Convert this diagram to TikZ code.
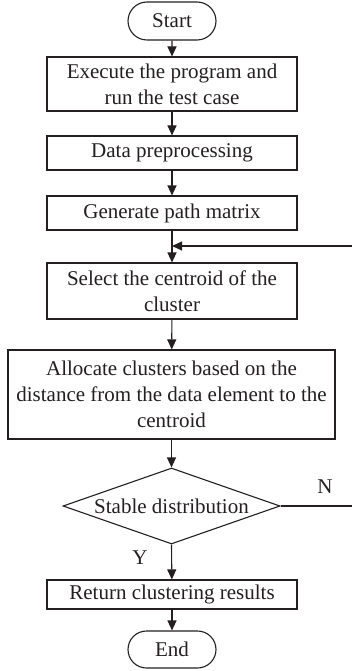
\documentclass[tikz,border=0pt]{standalone}
\usepackage{fontspec}
\setmainfont{Liberation Serif}
\usetikzlibrary{shapes.geometric,shapes.misc,arrows.meta}
\definecolor{ink}{HTML}{231F20}
\begin{document}
\begin{tikzpicture}[x=1pt,y=-1pt,
  every node/.style={font=\fontsize{21}{26}\selectfont, text=ink},
  box/.style={draw=ink, line width=1.1pt, rectangle, align=center, inner sep=0pt},
  term/.style={draw=ink, line width=1.1pt, rounded rectangle, inner sep=0pt,
               minimum width=88pt, minimum height=38pt},
  decision/.style={draw=ink, line width=1.1pt, diamond, aspect=2.86, inner sep=0pt,
               minimum width=217pt, minimum height=76pt},
  flow/.style={draw=ink, line width=1.1pt, -{Triangle[length=10pt,width=9pt]}},
  plain/.style={draw=ink, line width=1.1pt}]
\useasboundingbox (0,0) rectangle (352,671);

\node[term] (start) at (172,21) {Start};
\node[box, minimum width=250pt, minimum height=54pt] (exec) at (172,84)
  {Execute the program and\\run the test case};
\node[box, minimum width=250pt, minimum height=34pt] (prep) at (172,153)
  {Data preprocessing};
\node[box, minimum width=250pt, minimum height=34pt] (path) at (172,213)
  {Generate path matrix};
\node[box, minimum width=250pt, minimum height=56pt] (sel) at (172,291)
  {Select the centroid of the\\cluster};
\node[box, minimum width=327pt, minimum height=89pt] (alloc) at (171.5,394.5)
  {Allocate clusters based on the\\distance from the data element to the\\centroid};
\node[decision] (stable) at (171.5,506) {Stable distribution};
\node[box, minimum width=250pt, minimum height=29pt] (ret) at (172,594.5)
  {Return clustering results};
\node[term, minimum height=37pt] (end) at (172,649.5) {End};

\coordinate (join) at (172,246);

\draw[flow] (start) -- (exec);
\draw[flow] (exec) -- (prep);
\draw[flow] (prep) -- (path);
\draw[flow] (path) -- (sel);
\draw[flow] (sel) -- (alloc);
\draw[flow] (alloc) -- (stable.north);
\draw[flow] (stable.south) -- (ret);
\draw[flow] (ret) -- (end);
% loop back when the distribution is not yet stable
\draw[flow] (stable.east) -- ++(90,0) |- (join);

\node (n) at (325,487) {N};
\node (y) at (140,558) {Y};
\end{tikzpicture}
\end{document}
